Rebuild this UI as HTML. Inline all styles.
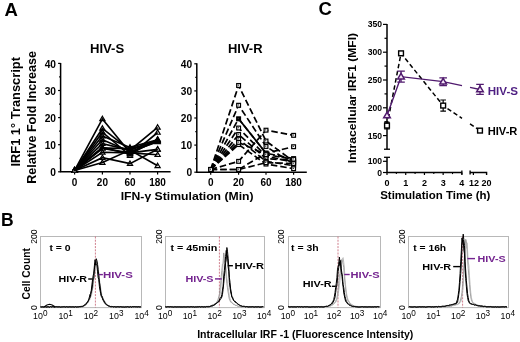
<!DOCTYPE html>
<html><head><meta charset="utf-8"><style>
html,body{margin:0;padding:0;background:#fff;overflow:hidden;}
svg{display:block;font-family:"Liberation Sans", sans-serif;will-change:transform;}
</style></head><body>
<svg width="520" height="342" viewBox="0 0 520 342">
<rect width="520" height="342" fill="#fff"/>
<text x="4.6" y="15.7" font-size="18.5" font-weight="bold" text-anchor="start" fill="#000">A</text>
<text x="1.0" y="226.3" font-size="17.5" font-weight="bold" text-anchor="start" fill="#000">B</text>
<text x="318.6" y="15.0" font-size="18.5" font-weight="bold" text-anchor="start" fill="#000">C</text>
<path d="M60.6 62.900000000000006V171.8H170.6" fill="none" stroke="#000" stroke-width="1.5"/>
<path d="M58.1 171.80H60.6" stroke="#000" stroke-width="1.2"/>
<path d="M59.1 158.25H60.6" stroke="#000" stroke-width="1.2"/>
<path d="M58.1 144.70H60.6" stroke="#000" stroke-width="1.2"/>
<path d="M59.1 131.15H60.6" stroke="#000" stroke-width="1.2"/>
<path d="M58.1 117.60H60.6" stroke="#000" stroke-width="1.2"/>
<path d="M59.1 104.05H60.6" stroke="#000" stroke-width="1.2"/>
<path d="M58.1 90.50H60.6" stroke="#000" stroke-width="1.2"/>
<path d="M59.1 76.95H60.6" stroke="#000" stroke-width="1.2"/>
<path d="M58.1 63.40H60.6" stroke="#000" stroke-width="1.2"/>
<text x="56.0" y="176.0" font-size="10.2" font-weight="bold" text-anchor="end" fill="#000">0</text>
<text x="56.0" y="148.9" font-size="10.2" font-weight="bold" text-anchor="end" fill="#000">10</text>
<text x="56.0" y="121.80000000000001" font-size="10.2" font-weight="bold" text-anchor="end" fill="#000">20</text>
<text x="56.0" y="94.70000000000002" font-size="10.2" font-weight="bold" text-anchor="end" fill="#000">30</text>
<text x="56.0" y="67.60000000000001" font-size="10.2" font-weight="bold" text-anchor="end" fill="#000">40</text>
<path d="M74.6 171.8V174.4" stroke="#000" stroke-width="1.2"/>
<text x="74.6" y="185.8" font-size="10.0" font-weight="bold" text-anchor="middle" fill="#000">0</text>
<path d="M102.4 171.8V174.4" stroke="#000" stroke-width="1.2"/>
<text x="102.4" y="185.8" font-size="10.0" font-weight="bold" text-anchor="middle" fill="#000">20</text>
<path d="M130.0 171.8V174.4" stroke="#000" stroke-width="1.2"/>
<text x="130.0" y="185.8" font-size="10.0" font-weight="bold" text-anchor="middle" fill="#000">60</text>
<path d="M157.6 171.8V174.4" stroke="#000" stroke-width="1.2"/>
<text x="157.6" y="185.8" font-size="10.0" font-weight="bold" text-anchor="middle" fill="#000">180</text>
<text x="90.0" y="53" font-size="12.6" font-weight="bold" text-anchor="start" fill="#000" textLength="34.2" lengthAdjust="spacingAndGlyphs">HIV-S</text>
<path d="M74.60 167.79L77.20 172.21L72.00 172.21Z" fill="#fff" stroke="#000" stroke-width="1.2"/>
<path d="M102.40 116.30L105.00 120.72L99.80 120.72Z" fill="#fff" stroke="#000" stroke-width="1.2"/>
<path d="M130.00 150.18L132.60 154.60L127.40 154.60Z" fill="#fff" stroke="#000" stroke-width="1.2"/>
<path d="M157.60 138.25L160.20 142.67L155.00 142.67Z" fill="#000" stroke="#000" stroke-width="1.2"/>
<path d="M74.60 167.79L77.20 172.21L72.00 172.21Z" fill="#fff" stroke="#000" stroke-width="1.2"/>
<path d="M102.40 125.79L105.00 130.21L99.80 130.21Z" fill="#fff" stroke="#000" stroke-width="1.2"/>
<path d="M130.00 147.47L132.60 151.89L127.40 151.89Z" fill="#fff" stroke="#000" stroke-width="1.2"/>
<path d="M157.60 124.70L160.20 129.12L155.00 129.12Z" fill="#fff" stroke="#000" stroke-width="1.2"/>
<path d="M74.60 167.79L77.20 172.21L72.00 172.21Z" fill="#fff" stroke="#000" stroke-width="1.2"/>
<path d="M102.40 129.58L105.00 134.00L99.80 134.00Z" fill="#fff" stroke="#000" stroke-width="1.2"/>
<path d="M130.00 152.89L132.60 157.31L127.40 157.31Z" fill="#fff" stroke="#000" stroke-width="1.2"/>
<path d="M157.60 129.85L160.20 134.27L155.00 134.27Z" fill="#fff" stroke="#000" stroke-width="1.2"/>
<path d="M74.60 167.79L77.20 172.21L72.00 172.21Z" fill="#fff" stroke="#000" stroke-width="1.2"/>
<path d="M102.40 133.38L105.00 137.80L99.80 137.80Z" fill="#fff" stroke="#000" stroke-width="1.2"/>
<path d="M130.00 144.76L132.60 149.18L127.40 149.18Z" fill="#fff" stroke="#000" stroke-width="1.2"/>
<path d="M157.60 137.17L160.20 141.59L155.00 141.59Z" fill="#000" stroke="#000" stroke-width="1.2"/>
<path d="M74.60 167.79L77.20 172.21L72.00 172.21Z" fill="#fff" stroke="#000" stroke-width="1.2"/>
<path d="M102.40 137.17L105.00 141.59L99.80 141.59Z" fill="#fff" stroke="#000" stroke-width="1.2"/>
<path d="M130.00 148.82L132.60 153.24L127.40 153.24Z" fill="#fff" stroke="#000" stroke-width="1.2"/>
<path d="M157.60 139.34L160.20 143.76L155.00 143.76Z" fill="#000" stroke="#000" stroke-width="1.2"/>
<path d="M74.60 167.79L77.20 172.21L72.00 172.21Z" fill="#fff" stroke="#000" stroke-width="1.2"/>
<path d="M102.40 140.96L105.00 145.38L99.80 145.38Z" fill="#fff" stroke="#000" stroke-width="1.2"/>
<path d="M130.00 147.47L132.60 151.89L127.40 151.89Z" fill="#fff" stroke="#000" stroke-width="1.2"/>
<path d="M157.60 137.71L160.20 142.13L155.00 142.13Z" fill="#000" stroke="#000" stroke-width="1.2"/>
<path d="M74.60 167.79L77.20 172.21L72.00 172.21Z" fill="#fff" stroke="#000" stroke-width="1.2"/>
<path d="M102.40 145.30L105.00 149.72L99.80 149.72Z" fill="#fff" stroke="#000" stroke-width="1.2"/>
<path d="M130.00 146.11L132.60 150.53L127.40 150.53Z" fill="#fff" stroke="#000" stroke-width="1.2"/>
<path d="M157.60 138.53L160.20 142.95L155.00 142.95Z" fill="#000" stroke="#000" stroke-width="1.2"/>
<path d="M74.60 167.79L77.20 172.21L72.00 172.21Z" fill="#fff" stroke="#000" stroke-width="1.2"/>
<path d="M102.40 144.76L105.00 149.18L99.80 149.18Z" fill="#fff" stroke="#000" stroke-width="1.2"/>
<path d="M130.00 151.53L132.60 155.95L127.40 155.95Z" fill="#fff" stroke="#000" stroke-width="1.2"/>
<path d="M157.60 136.63L160.20 141.05L155.00 141.05Z" fill="#000" stroke="#000" stroke-width="1.2"/>
<path d="M74.60 167.79L77.20 172.21L72.00 172.21Z" fill="#fff" stroke="#000" stroke-width="1.2"/>
<path d="M102.40 145.84L105.00 150.26L99.80 150.26Z" fill="#fff" stroke="#000" stroke-width="1.2"/>
<path d="M130.00 150.18L132.60 154.60L127.40 154.60Z" fill="#fff" stroke="#000" stroke-width="1.2"/>
<path d="M157.60 146.66L160.20 151.08L155.00 151.08Z" fill="#fff" stroke="#000" stroke-width="1.2"/>
<path d="M74.60 167.79L77.20 172.21L72.00 172.21Z" fill="#fff" stroke="#000" stroke-width="1.2"/>
<path d="M102.40 149.64L105.00 154.06L99.80 154.06Z" fill="#fff" stroke="#000" stroke-width="1.2"/>
<path d="M130.00 150.18L132.60 154.60L127.40 154.60Z" fill="#fff" stroke="#000" stroke-width="1.2"/>
<path d="M157.60 152.08L160.20 156.50L155.00 156.50Z" fill="#fff" stroke="#000" stroke-width="1.2"/>
<path d="M74.60 167.79L77.20 172.21L72.00 172.21Z" fill="#fff" stroke="#000" stroke-width="1.2"/>
<path d="M102.40 155.06L105.00 159.48L99.80 159.48Z" fill="#fff" stroke="#000" stroke-width="1.2"/>
<path d="M130.00 161.02L132.60 165.44L127.40 165.44Z" fill="#fff" stroke="#000" stroke-width="1.2"/>
<path d="M157.60 146.66L160.20 151.08L155.00 151.08Z" fill="#fff" stroke="#000" stroke-width="1.2"/>
<path d="M74.60 167.79L77.20 172.21L72.00 172.21Z" fill="#fff" stroke="#000" stroke-width="1.2"/>
<path d="M102.40 159.93L105.00 164.35L99.80 164.35Z" fill="#fff" stroke="#000" stroke-width="1.2"/>
<path d="M130.00 147.47L132.60 151.89L127.40 151.89Z" fill="#fff" stroke="#000" stroke-width="1.2"/>
<path d="M157.60 163.19L160.20 167.61L155.00 167.61Z" fill="#fff" stroke="#000" stroke-width="1.2"/>
<polyline points="74.60,170.45 102.40,118.96 130.00,152.83 157.60,140.91" fill="none" stroke="#000" stroke-width="1.65"/>
<polyline points="74.60,170.45 102.40,128.44 130.00,150.12 157.60,127.36" fill="none" stroke="#000" stroke-width="1.65"/>
<polyline points="74.60,170.45 102.40,132.23 130.00,155.54 157.60,132.50" fill="none" stroke="#000" stroke-width="1.65"/>
<polyline points="74.60,170.45 102.40,136.03 130.00,147.41 157.60,139.82" fill="none" stroke="#000" stroke-width="1.65"/>
<polyline points="74.60,170.45 102.40,139.82 130.00,151.48 157.60,141.99" fill="none" stroke="#000" stroke-width="1.65"/>
<polyline points="74.60,170.45 102.40,143.62 130.00,150.12 157.60,140.36" fill="none" stroke="#000" stroke-width="1.65"/>
<polyline points="74.60,170.45 102.40,147.95 130.00,148.77 157.60,141.18" fill="none" stroke="#000" stroke-width="1.65"/>
<polyline points="74.60,170.45 102.40,147.41 130.00,154.19 157.60,139.28" fill="none" stroke="#000" stroke-width="1.65"/>
<polyline points="74.60,170.45 102.40,148.49 130.00,152.83 157.60,149.31" fill="none" stroke="#000" stroke-width="1.65"/>
<polyline points="74.60,170.45 102.40,152.29 130.00,152.83 157.60,154.73" fill="none" stroke="#000" stroke-width="1.65"/>
<polyline points="74.60,170.45 102.40,157.71 130.00,163.67 157.60,149.31" fill="none" stroke="#000" stroke-width="1.65"/>
<polyline points="74.60,170.45 102.40,162.59 130.00,150.12 157.60,165.84" fill="none" stroke="#000" stroke-width="1.65"/>
<path d="M196.8 63.29999999999998V172.2H306.8" fill="none" stroke="#000" stroke-width="1.5"/>
<path d="M194.3 172.20H196.8" stroke="#000" stroke-width="1.2"/>
<path d="M195.3 158.65H196.8" stroke="#000" stroke-width="1.2"/>
<path d="M194.3 145.10H196.8" stroke="#000" stroke-width="1.2"/>
<path d="M195.3 131.55H196.8" stroke="#000" stroke-width="1.2"/>
<path d="M194.3 118.00H196.8" stroke="#000" stroke-width="1.2"/>
<path d="M195.3 104.45H196.8" stroke="#000" stroke-width="1.2"/>
<path d="M194.3 90.90H196.8" stroke="#000" stroke-width="1.2"/>
<path d="M195.3 77.35H196.8" stroke="#000" stroke-width="1.2"/>
<path d="M194.3 63.80H196.8" stroke="#000" stroke-width="1.2"/>
<text x="192.20000000000002" y="176.39999999999998" font-size="10.2" font-weight="bold" text-anchor="end" fill="#000">0</text>
<text x="192.20000000000002" y="149.29999999999998" font-size="10.2" font-weight="bold" text-anchor="end" fill="#000">10</text>
<text x="192.20000000000002" y="122.19999999999999" font-size="10.2" font-weight="bold" text-anchor="end" fill="#000">20</text>
<text x="192.20000000000002" y="95.1" font-size="10.2" font-weight="bold" text-anchor="end" fill="#000">30</text>
<text x="192.20000000000002" y="67.99999999999999" font-size="10.2" font-weight="bold" text-anchor="end" fill="#000">40</text>
<path d="M210.7 172.2V174.79999999999998" stroke="#000" stroke-width="1.2"/>
<text x="210.7" y="186.2" font-size="10.0" font-weight="bold" text-anchor="middle" fill="#000">0</text>
<path d="M238.6 172.2V174.79999999999998" stroke="#000" stroke-width="1.2"/>
<text x="238.6" y="186.2" font-size="10.0" font-weight="bold" text-anchor="middle" fill="#000">20</text>
<path d="M266.0 172.2V174.79999999999998" stroke="#000" stroke-width="1.2"/>
<text x="266.0" y="186.2" font-size="10.0" font-weight="bold" text-anchor="middle" fill="#000">60</text>
<path d="M293.6 172.2V174.79999999999998" stroke="#000" stroke-width="1.2"/>
<text x="293.6" y="186.2" font-size="10.0" font-weight="bold" text-anchor="middle" fill="#000">180</text>
<text x="228.0" y="53" font-size="12.6" font-weight="bold" text-anchor="start" fill="#000" textLength="34.5" lengthAdjust="spacingAndGlyphs">HIV-R</text>
<polyline points="210.70,169.49 238.60,85.48 266.00,141.03 293.60,161.36" fill="none" stroke="#000" stroke-width="1.7" stroke-dasharray="6.5 3"/>
<polyline points="210.70,169.49 238.60,105.26 266.00,146.45 293.60,164.07" fill="none" stroke="#000" stroke-width="1.7" stroke-dasharray="6.5 3"/>
<polyline points="210.70,169.49 238.60,118.81 266.00,153.23 293.60,158.65" fill="none" stroke="#000" stroke-width="1.7" stroke-dasharray="6.5 3"/>
<path d="M238.60 118.81L266.00 153.23" stroke="#000" stroke-width="1.8"/>
<polyline points="210.70,169.49 238.60,128.03 266.00,155.94 293.60,162.44" fill="none" stroke="#000" stroke-width="1.7" stroke-dasharray="6.5 3"/>
<polyline points="210.70,169.49 238.60,134.53 266.00,158.65 293.60,160.28" fill="none" stroke="#000" stroke-width="1.7" stroke-dasharray="6.5 3"/>
<polyline points="210.70,169.49 238.60,139.14 266.00,161.36 293.60,165.70" fill="none" stroke="#000" stroke-width="1.7" stroke-dasharray="6.5 3"/>
<polyline points="210.70,169.49 238.60,144.56 266.00,164.07 293.60,168.68" fill="none" stroke="#000" stroke-width="1.7" stroke-dasharray="6.5 3"/>
<polyline points="210.70,169.49 238.60,161.36 266.00,130.19 293.60,135.34" fill="none" stroke="#000" stroke-width="1.7" stroke-dasharray="6.5 3"/>
<polyline points="210.70,169.49 238.60,169.49 266.00,153.23 293.60,146.73" fill="none" stroke="#000" stroke-width="1.7" stroke-dasharray="6.5 3"/>
<polyline points="210.70,169.49 238.60,169.49 266.00,162.71 293.60,163.53" fill="none" stroke="#000" stroke-width="1.7" stroke-dasharray="6.5 3"/>
<polyline points="210.70,169.49 238.60,142.39 266.00,154.58 293.60,159.19" fill="none" stroke="#000" stroke-width="1.7" stroke-dasharray="6.5 3"/>
<rect x="208.80" y="167.59" width="3.80" height="3.80" fill="#fff" stroke="#000" stroke-width="1.2"/>
<rect x="209.80" y="168.59" width="1.2" height="1.2" fill="#333"/>
<rect x="236.70" y="83.58" width="3.80" height="3.80" fill="#fff" stroke="#000" stroke-width="1.2"/>
<rect x="237.70" y="84.58" width="1.2" height="1.2" fill="#333"/>
<rect x="264.10" y="139.13" width="3.80" height="3.80" fill="#fff" stroke="#000" stroke-width="1.2"/>
<rect x="265.10" y="140.13" width="1.2" height="1.2" fill="#333"/>
<rect x="291.70" y="159.46" width="3.80" height="3.80" fill="#fff" stroke="#000" stroke-width="1.2"/>
<rect x="292.70" y="160.46" width="1.2" height="1.2" fill="#333"/>
<rect x="208.80" y="167.59" width="3.80" height="3.80" fill="#fff" stroke="#000" stroke-width="1.2"/>
<rect x="209.80" y="168.59" width="1.2" height="1.2" fill="#333"/>
<rect x="236.70" y="103.36" width="3.80" height="3.80" fill="#fff" stroke="#000" stroke-width="1.2"/>
<rect x="237.70" y="104.36" width="1.2" height="1.2" fill="#333"/>
<rect x="264.10" y="144.55" width="3.80" height="3.80" fill="#fff" stroke="#000" stroke-width="1.2"/>
<rect x="265.10" y="145.55" width="1.2" height="1.2" fill="#333"/>
<rect x="291.70" y="162.17" width="3.80" height="3.80" fill="#fff" stroke="#000" stroke-width="1.2"/>
<rect x="292.70" y="163.17" width="1.2" height="1.2" fill="#333"/>
<rect x="208.80" y="167.59" width="3.80" height="3.80" fill="#000" stroke="#000" stroke-width="1.2"/>
<rect x="209.80" y="168.59" width="1.2" height="1.2" fill="#333"/>
<rect x="236.70" y="116.91" width="3.80" height="3.80" fill="#000" stroke="#000" stroke-width="1.2"/>
<rect x="237.70" y="117.91" width="1.2" height="1.2" fill="#333"/>
<rect x="264.10" y="151.33" width="3.80" height="3.80" fill="#000" stroke="#000" stroke-width="1.2"/>
<rect x="265.10" y="152.33" width="1.2" height="1.2" fill="#333"/>
<rect x="291.70" y="156.75" width="3.80" height="3.80" fill="#000" stroke="#000" stroke-width="1.2"/>
<rect x="292.70" y="157.75" width="1.2" height="1.2" fill="#333"/>
<rect x="208.80" y="167.59" width="3.80" height="3.80" fill="#fff" stroke="#000" stroke-width="1.2"/>
<rect x="209.80" y="168.59" width="1.2" height="1.2" fill="#333"/>
<rect x="236.70" y="126.13" width="3.80" height="3.80" fill="#fff" stroke="#000" stroke-width="1.2"/>
<rect x="237.70" y="127.13" width="1.2" height="1.2" fill="#333"/>
<rect x="264.10" y="154.04" width="3.80" height="3.80" fill="#fff" stroke="#000" stroke-width="1.2"/>
<rect x="265.10" y="155.04" width="1.2" height="1.2" fill="#333"/>
<rect x="291.70" y="160.54" width="3.80" height="3.80" fill="#fff" stroke="#000" stroke-width="1.2"/>
<rect x="292.70" y="161.54" width="1.2" height="1.2" fill="#333"/>
<rect x="208.80" y="167.59" width="3.80" height="3.80" fill="#fff" stroke="#000" stroke-width="1.2"/>
<rect x="209.80" y="168.59" width="1.2" height="1.2" fill="#333"/>
<rect x="236.70" y="132.63" width="3.80" height="3.80" fill="#fff" stroke="#000" stroke-width="1.2"/>
<rect x="237.70" y="133.63" width="1.2" height="1.2" fill="#333"/>
<rect x="264.10" y="156.75" width="3.80" height="3.80" fill="#fff" stroke="#000" stroke-width="1.2"/>
<rect x="265.10" y="157.75" width="1.2" height="1.2" fill="#333"/>
<rect x="291.70" y="158.38" width="3.80" height="3.80" fill="#fff" stroke="#000" stroke-width="1.2"/>
<rect x="292.70" y="159.38" width="1.2" height="1.2" fill="#333"/>
<rect x="208.80" y="167.59" width="3.80" height="3.80" fill="#fff" stroke="#000" stroke-width="1.2"/>
<rect x="209.80" y="168.59" width="1.2" height="1.2" fill="#333"/>
<rect x="236.70" y="137.24" width="3.80" height="3.80" fill="#fff" stroke="#000" stroke-width="1.2"/>
<rect x="237.70" y="138.24" width="1.2" height="1.2" fill="#333"/>
<rect x="264.10" y="159.46" width="3.80" height="3.80" fill="#fff" stroke="#000" stroke-width="1.2"/>
<rect x="265.10" y="160.46" width="1.2" height="1.2" fill="#333"/>
<rect x="291.70" y="163.80" width="3.80" height="3.80" fill="#fff" stroke="#000" stroke-width="1.2"/>
<rect x="292.70" y="164.80" width="1.2" height="1.2" fill="#333"/>
<rect x="208.80" y="167.59" width="3.80" height="3.80" fill="#fff" stroke="#000" stroke-width="1.2"/>
<rect x="209.80" y="168.59" width="1.2" height="1.2" fill="#333"/>
<rect x="236.70" y="142.66" width="3.80" height="3.80" fill="#fff" stroke="#000" stroke-width="1.2"/>
<rect x="237.70" y="143.66" width="1.2" height="1.2" fill="#333"/>
<rect x="264.10" y="162.17" width="3.80" height="3.80" fill="#fff" stroke="#000" stroke-width="1.2"/>
<rect x="265.10" y="163.17" width="1.2" height="1.2" fill="#333"/>
<rect x="291.70" y="166.78" width="3.80" height="3.80" fill="#fff" stroke="#000" stroke-width="1.2"/>
<rect x="292.70" y="167.78" width="1.2" height="1.2" fill="#333"/>
<rect x="208.80" y="167.59" width="3.80" height="3.80" fill="#fff" stroke="#000" stroke-width="1.2"/>
<rect x="209.80" y="168.59" width="1.2" height="1.2" fill="#333"/>
<rect x="236.70" y="159.46" width="3.80" height="3.80" fill="#fff" stroke="#000" stroke-width="1.2"/>
<rect x="237.70" y="160.46" width="1.2" height="1.2" fill="#333"/>
<rect x="264.10" y="128.29" width="3.80" height="3.80" fill="#fff" stroke="#000" stroke-width="1.2"/>
<rect x="265.10" y="129.29" width="1.2" height="1.2" fill="#333"/>
<rect x="291.70" y="133.44" width="3.80" height="3.80" fill="#fff" stroke="#000" stroke-width="1.2"/>
<rect x="292.70" y="134.44" width="1.2" height="1.2" fill="#333"/>
<rect x="208.80" y="167.59" width="3.80" height="3.80" fill="#fff" stroke="#000" stroke-width="1.2"/>
<rect x="209.80" y="168.59" width="1.2" height="1.2" fill="#333"/>
<rect x="236.70" y="167.59" width="3.80" height="3.80" fill="#fff" stroke="#000" stroke-width="1.2"/>
<rect x="237.70" y="168.59" width="1.2" height="1.2" fill="#333"/>
<rect x="264.10" y="151.33" width="3.80" height="3.80" fill="#fff" stroke="#000" stroke-width="1.2"/>
<rect x="265.10" y="152.33" width="1.2" height="1.2" fill="#333"/>
<rect x="291.70" y="144.83" width="3.80" height="3.80" fill="#fff" stroke="#000" stroke-width="1.2"/>
<rect x="292.70" y="145.83" width="1.2" height="1.2" fill="#333"/>
<rect x="208.80" y="167.59" width="3.80" height="3.80" fill="#fff" stroke="#000" stroke-width="1.2"/>
<rect x="209.80" y="168.59" width="1.2" height="1.2" fill="#333"/>
<rect x="236.70" y="167.59" width="3.80" height="3.80" fill="#fff" stroke="#000" stroke-width="1.2"/>
<rect x="237.70" y="168.59" width="1.2" height="1.2" fill="#333"/>
<rect x="264.10" y="160.81" width="3.80" height="3.80" fill="#fff" stroke="#000" stroke-width="1.2"/>
<rect x="265.10" y="161.81" width="1.2" height="1.2" fill="#333"/>
<rect x="291.70" y="161.63" width="3.80" height="3.80" fill="#fff" stroke="#000" stroke-width="1.2"/>
<rect x="292.70" y="162.63" width="1.2" height="1.2" fill="#333"/>
<rect x="208.80" y="167.59" width="3.80" height="3.80" fill="#fff" stroke="#000" stroke-width="1.2"/>
<rect x="209.80" y="168.59" width="1.2" height="1.2" fill="#333"/>
<rect x="236.70" y="140.49" width="3.80" height="3.80" fill="#fff" stroke="#000" stroke-width="1.2"/>
<rect x="237.70" y="141.49" width="1.2" height="1.2" fill="#333"/>
<rect x="264.10" y="152.68" width="3.80" height="3.80" fill="#fff" stroke="#000" stroke-width="1.2"/>
<rect x="265.10" y="153.68" width="1.2" height="1.2" fill="#333"/>
<rect x="291.70" y="157.29" width="3.80" height="3.80" fill="#fff" stroke="#000" stroke-width="1.2"/>
<rect x="292.70" y="158.29" width="1.2" height="1.2" fill="#333"/>
<text x="120.7" y="199.7" font-size="11.4" font-weight="bold" text-anchor="start" fill="#000" textLength="132.9" lengthAdjust="spacingAndGlyphs">IFN-γ Stimulation (Min)</text>
<text transform="translate(20.4,166.6) rotate(-90)" font-size="12.3" font-weight="bold" text-anchor="start" fill="#000" textLength="109.6" lengthAdjust="spacingAndGlyphs">IRF1 1° Transcript</text>
<text transform="translate(36.4,183.8) rotate(-90)" font-size="12.8" font-weight="bold" text-anchor="start" fill="#000" textLength="132.8" lengthAdjust="spacingAndGlyphs">Relative Fold Increase</text>
<path d="M387.0 23.899999999999977V149.222" stroke="#000" stroke-width="1.5"/>
<path d="M384.0 149.222H390.0" stroke="#000" stroke-width="1.3"/>
<path d="M387.0 157.3V172.5H461.88" fill="none" stroke="#000" stroke-width="1.5"/>
<path d="M384.0 157.3H390.0" stroke="#000" stroke-width="1.3"/>
<path d="M383.0 135.60H387.0" stroke="#000" stroke-width="1.2"/>
<path d="M384.5 121.70H387.0" stroke="#000" stroke-width="1.2"/>
<path d="M383.0 107.80H387.0" stroke="#000" stroke-width="1.2"/>
<path d="M384.5 93.90H387.0" stroke="#000" stroke-width="1.2"/>
<path d="M383.0 80.00H387.0" stroke="#000" stroke-width="1.2"/>
<path d="M384.5 66.10H387.0" stroke="#000" stroke-width="1.2"/>
<path d="M383.0 52.20H387.0" stroke="#000" stroke-width="1.2"/>
<path d="M384.5 38.30H387.0" stroke="#000" stroke-width="1.2"/>
<path d="M383.0 24.40H387.0" stroke="#000" stroke-width="1.2"/>
<text x="382.0" y="138.6" font-size="8.6" font-weight="bold" text-anchor="end" fill="#000">150</text>
<text x="382.0" y="110.79999999999998" font-size="8.6" font-weight="bold" text-anchor="end" fill="#000">200</text>
<text x="382.0" y="82.99999999999999" font-size="8.6" font-weight="bold" text-anchor="end" fill="#000">250</text>
<text x="382.0" y="55.19999999999999" font-size="8.6" font-weight="bold" text-anchor="end" fill="#000">300</text>
<text x="382.0" y="27.399999999999977" font-size="8.6" font-weight="bold" text-anchor="end" fill="#000">350</text>
<path d="M383.0 172.50H387.0" stroke="#000" stroke-width="1.2"/>
<text x="382.0" y="175.5" font-size="8.6" font-weight="bold" text-anchor="end" fill="#000">0</text>
<path d="M383.0 161.30H387.0" stroke="#000" stroke-width="1.2"/>
<text x="382.0" y="164.3" font-size="8.6" font-weight="bold" text-anchor="end" fill="#000">100</text>
<path d="M387.00 172.5V175.0" stroke="#000" stroke-width="1.2"/>
<text x="387.0" y="186.2" font-size="9.0" font-weight="bold" text-anchor="middle" fill="#000">0</text>
<path d="M405.72 172.5V175.0" stroke="#000" stroke-width="1.2"/>
<text x="405.72" y="186.2" font-size="9.0" font-weight="bold" text-anchor="middle" fill="#000">1</text>
<path d="M424.44 172.5V175.0" stroke="#000" stroke-width="1.2"/>
<text x="424.44" y="186.2" font-size="9.0" font-weight="bold" text-anchor="middle" fill="#000">2</text>
<path d="M443.16 172.5V175.0" stroke="#000" stroke-width="1.2"/>
<text x="443.15999999999997" y="186.2" font-size="9.0" font-weight="bold" text-anchor="middle" fill="#000">3</text>
<path d="M461.88 172.5V175.0" stroke="#000" stroke-width="1.2"/>
<text x="461.88" y="186.2" font-size="9.0" font-weight="bold" text-anchor="middle" fill="#000">4</text>
<path d="M396.36 172.5V174.1" stroke="#000" stroke-width="1.1"/>
<path d="M415.08 172.5V174.1" stroke="#000" stroke-width="1.1"/>
<path d="M433.80 172.5V174.1" stroke="#000" stroke-width="1.1"/>
<path d="M452.52 172.5V174.1" stroke="#000" stroke-width="1.1"/>
<path d="M461.88 170.4V174.5" stroke="#000" stroke-width="1.3"/>
<path d="M470.1 170.4V174.5M470.1 172.5H486.6V175" fill="none" stroke="#000" stroke-width="1.4"/>
<path d="M473.4 172.5V175" stroke="#000" stroke-width="1.2"/>
<text x="473.9" y="186.2" font-size="9.0" font-weight="bold" text-anchor="middle" fill="#000">12</text>
<text x="486.4" y="186.2" font-size="9.0" font-weight="bold" text-anchor="middle" fill="#000">20</text>
<text x="380.2" y="198.9" font-size="11.3" font-weight="bold" text-anchor="start" fill="#000" textLength="110.2" lengthAdjust="spacingAndGlyphs">Stimulation Time (h)</text>
<text transform="translate(356.4,163.2) rotate(-90)" font-size="10.2" font-weight="bold" text-anchor="start" fill="#000" textLength="130.3" lengthAdjust="spacingAndGlyphs">Intracellular IRF1 (MFI)</text>
<polyline points="387.00,125.59 401.04,53.31 443.16,105.58 462.00,118.37" fill="none" stroke="#000" stroke-width="1.5" stroke-dasharray="4.5 2.8"/>
<polyline points="470.00,123.80 480.00,130.60" fill="none" stroke="#000" stroke-width="1.5" stroke-dasharray="4.5 2.8"/>
<polyline points="387.00,115.58 401.04,76.66 443.16,81.67 462.00,85.65" fill="none" stroke="#501a6e" stroke-width="1.4"/>
<polyline points="470.00,87.34 480.00,89.45" fill="none" stroke="#501a6e" stroke-width="1.4"/>
<path d="M387.00 122.26V128.93M384.20 122.26h5.6M384.20 128.93h5.6" stroke="#000" stroke-width="1.2"/>
<rect x="384.60" y="123.19" width="4.80" height="4.80" fill="#fff" stroke="#000" stroke-width="1.4"/>
<rect x="398.64" y="50.91" width="4.80" height="4.80" fill="#fff" stroke="#000" stroke-width="1.4"/>
<path d="M443.16 100.02V111.14M440.36 100.02h5.6M440.36 111.14h5.6" stroke="#000" stroke-width="1.2"/>
<rect x="440.76" y="103.18" width="4.80" height="4.80" fill="#fff" stroke="#000" stroke-width="1.4"/>
<rect x="477.60" y="128.20" width="4.80" height="4.80" fill="#fff" stroke="#000" stroke-width="1.4"/>
<path d="M387.00 112.22L390.30 117.83L383.70 117.83Z" fill="#f4e6f6" stroke="#501a6e" stroke-width="1.5"/>
<path d="M401.04 71.10V82.22M397.24 71.10h7.6M397.24 82.22h7.6" stroke="#501a6e" stroke-width="1.3"/>
<path d="M401.04 73.30L404.34 78.91L397.74 78.91Z" fill="#f4e6f6" stroke="#501a6e" stroke-width="1.5"/>
<path d="M443.16 77.78V85.56M439.36 77.78h7.6M439.36 85.56h7.6" stroke="#501a6e" stroke-width="1.3"/>
<path d="M443.16 78.30L446.46 83.91L439.86 83.91Z" fill="#f4e6f6" stroke="#501a6e" stroke-width="1.5"/>
<path d="M480.00 84.45V94.46M476.20 84.45h7.6M476.20 94.46h7.6" stroke="#501a6e" stroke-width="1.3"/>
<path d="M480.00 86.09L483.30 91.70L476.70 91.70Z" fill="#f4e6f6" stroke="#501a6e" stroke-width="1.5"/>
<text x="487.7" y="94.5" font-size="10.8" font-weight="bold" text-anchor="start" fill="#4e1f82" textLength="30.3" lengthAdjust="spacingAndGlyphs">HIV-S</text>
<text x="487.7" y="135.4" font-size="10.8" font-weight="bold" text-anchor="start" fill="#000" textLength="29.7" lengthAdjust="spacingAndGlyphs">HIV-R</text>
<rect x="40.5" y="236.5" width="101" height="71.10" fill="none" stroke="#b8b8b8" stroke-width="1"/>
<path d="M95.4 236.5V307.6" stroke="#c86878" stroke-width="0.85" stroke-dasharray="2 1.2"/>
<path d="M40.50 306.69 L41.13 307.05 L41.75 306.93 L42.38 306.73 L43.01 307.18 L43.63 306.94 L44.26 307.20 L44.89 306.77 L45.52 306.63 L46.14 307.18 L46.77 306.88 L47.40 306.97 L48.02 306.95 L48.65 307.07 L49.28 306.90 L49.90 307.06 L50.53 306.92 L51.16 307.19 L51.78 306.87 L52.41 307.09 L53.04 306.68 L53.66 307.00 L54.29 306.77 L54.92 306.95 L55.55 306.80 L56.17 306.85 L56.80 306.69 L57.43 306.85 L58.05 307.05 L58.68 306.95 L59.31 306.87 L59.93 306.80 L60.56 306.94 L61.19 306.73 L61.81 306.96 L62.44 307.18 L63.07 306.78 L63.69 306.84 L64.32 307.10 L64.95 306.61 L65.58 306.88 L66.20 307.06 L66.83 306.63 L67.46 306.92 L68.08 306.87 L68.71 307.20 L69.34 306.71 L69.96 306.76 L70.59 306.89 L71.22 306.94 L71.84 306.68 L72.47 307.08 L73.10 306.91 L73.72 306.99 L74.35 306.82 L74.98 306.92 L75.61 307.06 L76.23 306.84 L76.86 306.70 L77.49 306.68 L78.11 306.65 L78.74 307.08 L79.37 307.10 L79.99 306.90 L80.62 306.63 L81.25 306.87 L81.87 306.49 L82.50 306.49 L83.13 306.10 L83.75 305.89 L84.38 305.68 L85.01 305.28 L85.64 304.48 L86.26 304.10 L86.89 302.93 L87.52 303.01 L88.14 301.56 L88.77 300.49 L89.40 298.61 L90.02 297.52 L90.65 294.75 L91.28 293.52 L91.90 290.00 L92.53 286.28 L93.16 283.01 L93.78 272.56 L94.41 271.19 L95.04 266.85 L95.67 261.10 L96.29 264.79 L96.92 261.79 L97.55 265.76 L98.17 273.10 L98.80 276.62 L99.43 283.03 L100.05 288.75 L100.68 292.46 L101.31 294.83 L101.93 297.25 L102.56 298.63 L103.19 299.72 L103.81 300.78 L104.44 302.33 L105.07 302.35 L105.70 303.92 L106.32 304.04 L106.95 304.82 L107.58 305.12 L108.20 305.43 L108.83 305.92 L109.46 306.49 L110.08 306.56 L110.71 306.48 L111.34 306.72 L111.96 306.86 L112.59 306.71 L113.22 306.58 L113.84 306.82 L114.47 307.14 L115.10 306.66 L115.73 306.69 L116.35 306.82 L116.98 306.97 L117.61 307.06 L118.23 307.04 L118.86 306.86 L119.49 306.92 L120.11 306.73 L120.74 307.19 L121.37 307.14 L121.99 306.67 L122.62 307.06 L123.25 306.95 L123.87 307.10 L124.50 306.75 L125.13 306.65 L125.76 306.62 L126.38 307.02 L127.01 306.91 L127.64 306.81 L128.26 307.19 L128.89 307.02 L129.52 306.93 L130.14 307.16 L130.77 306.62 L131.40 307.13 L132.02 306.83 L132.65 306.87 L133.28 306.80 L133.90 306.88 L134.53 307.05 L135.16 307.03 L135.79 306.93 L136.41 306.81 L137.04 306.97 L137.67 307.00 L138.29 306.69 L138.92 307.02 L139.55 306.87 L140.17 306.84 L140.80 307.19" fill="none" stroke="#8c8c8c" stroke-width="0.85"/>
<path d="M40.50 306.87 L41.13 306.84 L41.75 307.16 L42.38 306.70 L43.01 307.06 L43.63 306.92 L44.26 306.91 L44.89 307.11 L45.52 306.68 L46.14 306.76 L46.77 307.16 L47.40 306.85 L48.02 307.18 L48.65 306.92 L49.28 306.67 L49.90 306.65 L50.53 306.72 L51.16 306.64 L51.78 307.14 L52.41 307.07 L53.04 306.94 L53.66 307.02 L54.29 306.97 L54.92 306.85 L55.55 306.66 L56.17 306.64 L56.80 306.61 L57.43 307.10 L58.05 306.62 L58.68 306.86 L59.31 307.07 L59.93 306.86 L60.56 307.16 L61.19 306.61 L61.81 306.72 L62.44 307.11 L63.07 306.74 L63.69 307.17 L64.32 307.17 L64.95 307.00 L65.58 306.61 L66.20 306.60 L66.83 307.15 L67.46 307.18 L68.08 306.96 L68.71 307.11 L69.34 306.68 L69.96 306.62 L70.59 306.97 L71.22 306.89 L71.84 306.84 L72.47 306.83 L73.10 306.90 L73.72 306.77 L74.35 307.02 L74.98 306.88 L75.61 307.19 L76.23 306.84 L76.86 306.82 L77.49 307.14 L78.11 306.89 L78.74 306.94 L79.37 306.69 L79.99 307.07 L80.62 306.47 L81.25 306.73 L81.87 306.71 L82.50 306.61 L83.13 306.28 L83.75 306.22 L84.38 306.09 L85.01 305.36 L85.64 305.33 L86.26 304.63 L86.89 304.19 L87.52 303.38 L88.14 302.67 L88.77 301.18 L89.40 300.14 L90.02 299.21 L90.65 296.92 L91.28 296.42 L91.90 293.32 L92.53 288.95 L93.16 287.44 L93.78 279.89 L94.41 274.55 L95.04 273.54 L95.67 264.80 L96.29 265.46 L96.92 264.55 L97.55 262.90 L98.17 272.67 L98.80 272.05 L99.43 279.88 L100.05 283.23 L100.68 287.98 L101.31 291.91 L101.93 295.52 L102.56 297.75 L103.19 298.63 L103.81 299.88 L104.44 300.61 L105.07 301.55 L105.70 302.70 L106.32 303.91 L106.95 304.69 L107.58 304.89 L108.20 305.16 L108.83 305.84 L109.46 305.87 L110.08 306.10 L110.71 306.64 L111.34 306.38 L111.96 306.51 L112.59 306.54 L113.22 307.08 L113.84 306.61 L114.47 306.99 L115.10 306.85 L115.73 306.90 L116.35 307.18 L116.98 307.12 L117.61 307.15 L118.23 306.68 L118.86 306.90 L119.49 307.01 L120.11 306.81 L120.74 306.98 L121.37 307.00 L121.99 306.87 L122.62 306.97 L123.25 307.09 L123.87 306.84 L124.50 306.97 L125.13 306.83 L125.76 306.98 L126.38 306.78 L127.01 306.78 L127.64 307.05 L128.26 306.78 L128.89 306.95 L129.52 306.67 L130.14 306.98 L130.77 306.73 L131.40 306.92 L132.02 306.71 L132.65 306.67 L133.28 306.80 L133.90 306.86 L134.53 306.85 L135.16 307.11 L135.79 307.17 L136.41 307.14 L137.04 307.09 L137.67 306.70 L138.29 306.69 L138.92 306.70 L139.55 306.85 L140.17 307.18 L140.80 306.89" fill="none" stroke="#b0b0b0" stroke-width="0.85"/>
<path d="M40.50 306.63 L41.13 307.15 L41.75 306.76 L42.38 307.02 L43.01 306.84 L43.63 307.10 L44.26 306.96 L44.89 306.60 L45.52 306.87 L46.14 307.04 L46.77 307.18 L47.40 307.01 L48.02 306.66 L48.65 306.86 L49.28 307.19 L49.90 307.12 L50.53 306.60 L51.16 307.09 L51.78 306.72 L52.41 306.66 L53.04 306.73 L53.66 306.61 L54.29 307.10 L54.92 306.77 L55.55 306.88 L56.17 306.65 L56.80 306.70 L57.43 306.67 L58.05 306.92 L58.68 306.65 L59.31 306.91 L59.93 307.01 L60.56 307.10 L61.19 307.04 L61.81 307.01 L62.44 306.78 L63.07 306.89 L63.69 306.85 L64.32 307.08 L64.95 306.64 L65.58 307.15 L66.20 306.76 L66.83 307.09 L67.46 307.16 L68.08 307.04 L68.71 306.67 L69.34 306.89 L69.96 307.05 L70.59 306.67 L71.22 306.77 L71.84 306.98 L72.47 306.80 L73.10 306.63 L73.72 306.76 L74.35 307.04 L74.98 307.10 L75.61 306.77 L76.23 307.16 L76.86 307.08 L77.49 306.95 L78.11 306.69 L78.74 306.91 L79.37 306.80 L79.99 306.54 L80.62 306.43 L81.25 306.34 L81.87 306.50 L82.50 306.21 L83.13 305.96 L83.75 305.64 L84.38 305.12 L85.01 304.77 L85.64 303.83 L86.26 303.16 L86.89 302.68 L87.52 301.94 L88.14 300.93 L88.77 299.33 L89.40 296.94 L90.02 294.11 L90.65 293.57 L91.28 290.41 L91.90 285.00 L92.53 279.89 L93.16 275.60 L93.78 273.16 L94.41 265.60 L95.04 259.73 L95.67 263.95 L96.29 264.25 L96.92 265.44 L97.55 271.84 L98.17 277.70 L98.80 279.59 L99.43 286.80 L100.05 290.44 L100.68 293.60 L101.31 296.63 L101.93 297.17 L102.56 298.84 L103.19 300.41 L103.81 301.14 L104.44 302.78 L105.07 303.72 L105.70 303.80 L106.32 304.90 L106.95 305.22 L107.58 305.60 L108.20 306.12 L108.83 305.92 L109.46 306.25 L110.08 306.49 L110.71 306.65 L111.34 306.76 L111.96 307.00 L112.59 306.61 L113.22 306.56 L113.84 307.14 L114.47 306.71 L115.10 306.88 L115.73 306.92 L116.35 307.03 L116.98 306.91 L117.61 306.71 L118.23 306.70 L118.86 307.06 L119.49 307.04 L120.11 306.79 L120.74 306.85 L121.37 307.14 L121.99 306.60 L122.62 306.95 L123.25 307.15 L123.87 306.61 L124.50 307.12 L125.13 307.06 L125.76 306.79 L126.38 306.89 L127.01 306.88 L127.64 306.75 L128.26 306.89 L128.89 307.05 L129.52 306.92 L130.14 306.96 L130.77 306.73 L131.40 307.11 L132.02 307.18 L132.65 306.67 L133.28 306.89 L133.90 306.96 L134.53 306.64 L135.16 306.92 L135.79 307.00 L136.41 306.80 L137.04 306.69 L137.67 306.83 L138.29 306.80 L138.92 306.82 L139.55 306.92 L140.17 306.67 L140.80 306.71" fill="none" stroke="#000" stroke-width="1.0"/>
<path d="M40.50 307.14 L41.13 307.11 L41.75 306.96 L42.38 306.72 L43.01 307.07 L43.63 307.03 L44.26 307.14 L44.89 306.64 L45.52 306.72 L46.14 307.08 L46.77 306.82 L47.40 306.69 L48.02 307.15 L48.65 306.80 L49.28 307.09 L49.90 307.15 L50.53 306.68 L51.16 307.02 L51.78 306.86 L52.41 306.69 L53.04 306.95 L53.66 306.94 L54.29 307.02 L54.92 307.17 L55.55 306.82 L56.17 306.88 L56.80 306.99 L57.43 307.08 L58.05 307.08 L58.68 307.03 L59.31 306.75 L59.93 306.86 L60.56 307.14 L61.19 307.06 L61.81 306.83 L62.44 307.00 L63.07 306.92 L63.69 306.78 L64.32 306.63 L64.95 306.62 L65.58 307.03 L66.20 306.73 L66.83 306.63 L67.46 306.71 L68.08 307.09 L68.71 307.12 L69.34 306.62 L69.96 307.19 L70.59 307.10 L71.22 306.98 L71.84 307.14 L72.47 306.95 L73.10 307.16 L73.72 307.10 L74.35 307.11 L74.98 306.90 L75.61 306.59 L76.23 306.87 L76.86 306.94 L77.49 306.88 L78.11 306.91 L78.74 306.89 L79.37 306.58 L79.99 306.75 L80.62 306.86 L81.25 306.80 L81.87 306.29 L82.50 306.64 L83.13 306.04 L83.75 305.84 L84.38 305.35 L85.01 304.88 L85.64 304.86 L86.26 303.92 L86.89 302.75 L87.52 302.45 L88.14 301.06 L88.77 299.92 L89.40 298.68 L90.02 297.60 L90.65 294.89 L91.28 291.72 L91.90 289.82 L92.53 284.83 L93.16 279.04 L93.78 278.55 L94.41 269.52 L95.04 263.68 L95.67 265.22 L96.29 258.69 L96.92 260.65 L97.55 264.61 L98.17 269.60 L98.80 275.69 L99.43 282.14 L100.05 285.81 L100.68 291.11 L101.31 295.32 L101.93 295.99 L102.56 297.29 L103.19 299.98 L103.81 300.34 L104.44 301.99 L105.07 302.68 L105.70 303.54 L106.32 304.16 L106.95 304.88 L107.58 305.36 L108.20 305.66 L108.83 305.88 L109.46 305.99 L110.08 306.62 L110.71 306.69 L111.34 306.45 L111.96 306.54 L112.59 306.56 L113.22 307.03 L113.84 306.94 L114.47 306.62 L115.10 307.17 L115.73 306.86 L116.35 306.76 L116.98 307.15 L117.61 306.69 L118.23 306.74 L118.86 306.82 L119.49 306.83 L120.11 306.65 L120.74 306.65 L121.37 306.68 L121.99 306.83 L122.62 307.12 L123.25 306.98 L123.87 307.12 L124.50 307.11 L125.13 307.09 L125.76 306.98 L126.38 306.99 L127.01 307.14 L127.64 306.64 L128.26 306.81 L128.89 307.02 L129.52 307.19 L130.14 306.70 L130.77 306.72 L131.40 307.10 L132.02 306.90 L132.65 306.64 L133.28 306.62 L133.90 306.81 L134.53 306.75 L135.16 306.70 L135.79 306.64 L136.41 306.84 L137.04 306.78 L137.67 307.06 L138.29 306.82 L138.92 306.66 L139.55 306.96 L140.17 307.03 L140.80 307.19" fill="none" stroke="#000" stroke-width="1.0"/>
<path d="M44 306.9Q47 304.5 49.7 304.3Q52 304.5 55 306.8" fill="none" stroke="#000" stroke-width="1.1"/>
<text x="49.4" y="250.8" font-size="8.9" font-weight="bold" text-anchor="start" fill="#000" textLength="21.2" lengthAdjust="spacingAndGlyphs">t = 0</text>
<text x="58.6" y="282.4" font-size="9.3" font-weight="bold" text-anchor="start" fill="#000" textLength="28.500000000000007" lengthAdjust="spacingAndGlyphs">HIV-R</text>
<path d="M88.2 279.0H92.4" stroke="#000" stroke-width="1.4"/>
<text x="102.89999999999999" y="278.0" font-size="9.3" font-weight="bold" text-anchor="start" fill="#74248f" textLength="29.9" lengthAdjust="spacingAndGlyphs">HIV-S</text>
<path d="M98.7 274.6H102.9" stroke="#74248f" stroke-width="1.4"/>
<text transform="translate(36.8,243.7) rotate(-90)" font-size="8.6" font-weight="normal" text-anchor="start" fill="#000" textLength="14.3" lengthAdjust="spacingAndGlyphs">200</text>
<text transform="translate(36.8,310.0) rotate(-90)" font-size="8.6" font-weight="normal" text-anchor="start" fill="#000">0</text>
<text x="33.10" y="319.4" font-size="8.8" fill="#000">10<tspan dy="-3.6" font-size="8.2">0</tspan></text>
<text x="58.43" y="319.4" font-size="8.8" fill="#000">10<tspan dy="-3.6" font-size="8.2">1</tspan></text>
<text x="83.75" y="319.4" font-size="8.8" fill="#000">10<tspan dy="-3.6" font-size="8.2">2</tspan></text>
<text x="109.08" y="319.4" font-size="8.8" fill="#000">10<tspan dy="-3.6" font-size="8.2">3</tspan></text>
<text x="134.40" y="319.4" font-size="8.8" fill="#000">10<tspan dy="-3.6" font-size="8.2">4</tspan></text>
<rect x="165.5" y="236.5" width="99" height="71.10" fill="none" stroke="#b8b8b8" stroke-width="1"/>
<path d="M219.4 236.5V307.6" stroke="#c86878" stroke-width="0.85" stroke-dasharray="2 1.2"/>
<path d="M165.30 306.86 L165.93 306.92 L166.56 306.85 L167.18 306.89 L167.81 306.72 L168.44 307.02 L169.07 306.71 L169.70 307.17 L170.33 306.62 L170.95 306.83 L171.58 307.19 L172.21 307.16 L172.84 307.05 L173.47 306.92 L174.09 306.69 L174.72 306.82 L175.35 306.80 L175.98 307.03 L176.61 306.60 L177.24 306.78 L177.86 307.06 L178.49 307.16 L179.12 306.96 L179.75 306.97 L180.38 306.69 L181.01 307.07 L181.63 306.92 L182.26 306.96 L182.89 306.82 L183.52 307.04 L184.15 307.00 L184.77 306.75 L185.40 307.05 L186.03 307.16 L186.66 307.09 L187.29 306.93 L187.92 306.76 L188.54 306.81 L189.17 306.95 L189.80 307.04 L190.43 306.72 L191.06 306.67 L191.68 306.96 L192.31 306.81 L192.94 306.61 L193.57 307.04 L194.20 307.00 L194.83 307.16 L195.45 306.85 L196.08 306.84 L196.71 306.93 L197.34 306.91 L197.97 306.68 L198.59 307.11 L199.22 306.71 L199.85 307.08 L200.48 306.63 L201.11 306.62 L201.74 306.82 L202.36 307.11 L202.99 306.59 L203.62 306.73 L204.25 306.64 L204.88 306.93 L205.51 306.66 L206.13 306.92 L206.76 306.48 L207.39 306.75 L208.02 306.70 L208.65 306.63 L209.27 306.60 L209.90 306.31 L210.53 306.22 L211.16 305.60 L211.79 305.37 L212.42 305.20 L213.04 305.40 L213.67 304.59 L214.30 303.88 L214.93 304.01 L215.56 303.22 L216.18 302.61 L216.81 302.42 L217.44 300.64 L218.07 299.34 L218.70 297.00 L219.33 294.96 L219.95 289.15 L220.58 285.21 L221.21 276.58 L221.84 270.70 L222.47 264.18 L223.09 263.38 L223.72 252.91 L224.35 256.27 L224.98 259.85 L225.61 267.82 L226.24 276.79 L226.86 283.55 L227.49 287.84 L228.12 292.04 L228.75 295.72 L229.38 299.37 L230.01 300.55 L230.63 302.06 L231.26 301.98 L231.89 302.84 L232.52 303.57 L233.15 304.22 L233.77 304.05 L234.40 304.73 L235.03 305.22 L235.66 305.52 L236.29 305.40 L236.92 305.60 L237.54 306.32 L238.17 306.39 L238.80 306.46 L239.43 306.49 L240.06 306.39 L240.68 306.67 L241.31 307.01 L241.94 307.03 L242.57 306.75 L243.20 306.65 L243.83 307.07 L244.45 307.14 L245.08 307.03 L245.71 307.15 L246.34 306.92 L246.97 306.80 L247.59 306.62 L248.22 307.08 L248.85 307.09 L249.48 306.91 L250.11 307.09 L250.74 306.99 L251.36 306.89 L251.99 306.75 L252.62 306.72 L253.25 307.15 L253.88 306.77 L254.51 306.93 L255.13 306.65 L255.76 306.86 L256.39 306.72 L257.02 306.92 L257.65 307.08 L258.27 306.71 L258.90 306.77 L259.53 306.66 L260.16 306.61 L260.79 306.73 L261.42 306.65 L262.04 306.99 L262.67 306.94 L263.30 306.74" fill="none" stroke="#8c8c8c" stroke-width="0.85"/>
<path d="M165.30 306.79 L165.93 306.69 L166.56 307.06 L167.18 307.06 L167.81 307.12 L168.44 307.07 L169.07 306.94 L169.70 306.83 L170.33 307.03 L170.95 306.68 L171.58 306.72 L172.21 306.75 L172.84 306.72 L173.47 306.69 L174.09 306.75 L174.72 306.94 L175.35 306.94 L175.98 307.13 L176.61 306.72 L177.24 306.79 L177.86 306.75 L178.49 306.79 L179.12 307.09 L179.75 306.89 L180.38 306.92 L181.01 306.96 L181.63 306.91 L182.26 307.06 L182.89 306.98 L183.52 306.81 L184.15 306.97 L184.77 306.64 L185.40 307.11 L186.03 306.70 L186.66 307.10 L187.29 306.68 L187.92 306.72 L188.54 306.69 L189.17 306.77 L189.80 306.62 L190.43 306.77 L191.06 306.83 L191.68 306.85 L192.31 306.76 L192.94 307.02 L193.57 306.79 L194.20 307.06 L194.83 306.81 L195.45 306.87 L196.08 306.94 L196.71 307.14 L197.34 306.60 L197.97 307.02 L198.59 306.84 L199.22 306.92 L199.85 306.70 L200.48 306.99 L201.11 306.61 L201.74 306.90 L202.36 307.00 L202.99 306.88 L203.62 306.72 L204.25 306.75 L204.88 306.98 L205.51 306.90 L206.13 306.92 L206.76 306.84 L207.39 306.77 L208.02 306.50 L208.65 306.85 L209.27 306.62 L209.90 306.31 L210.53 306.35 L211.16 306.26 L211.79 306.00 L212.42 305.70 L213.04 305.46 L213.67 305.42 L214.30 304.79 L214.93 303.85 L215.56 304.12 L216.18 303.48 L216.81 302.77 L217.44 302.37 L218.07 301.91 L218.70 299.65 L219.33 298.01 L219.95 295.11 L220.58 291.53 L221.21 284.54 L221.84 278.68 L222.47 272.52 L223.09 264.78 L223.72 258.11 L224.35 262.08 L224.98 257.09 L225.61 264.67 L226.24 270.69 L226.86 278.58 L227.49 281.75 L228.12 287.50 L228.75 291.74 L229.38 296.71 L230.01 298.46 L230.63 300.76 L231.26 302.26 L231.89 302.20 L232.52 303.16 L233.15 304.01 L233.77 304.51 L234.40 304.33 L235.03 304.76 L235.66 305.14 L236.29 305.20 L236.92 305.88 L237.54 305.71 L238.17 306.30 L238.80 306.31 L239.43 306.39 L240.06 306.35 L240.68 306.85 L241.31 306.78 L241.94 306.71 L242.57 306.57 L243.20 306.66 L243.83 306.87 L244.45 307.13 L245.08 307.07 L245.71 307.08 L246.34 306.88 L246.97 307.03 L247.59 306.83 L248.22 306.88 L248.85 306.93 L249.48 306.99 L250.11 307.17 L250.74 306.94 L251.36 306.75 L251.99 306.65 L252.62 306.71 L253.25 306.79 L253.88 306.80 L254.51 307.05 L255.13 306.76 L255.76 307.17 L256.39 306.83 L257.02 306.73 L257.65 306.97 L258.27 306.90 L258.90 306.95 L259.53 306.93 L260.16 307.00 L260.79 306.65 L261.42 306.97 L262.04 306.91 L262.67 306.71 L263.30 306.61" fill="none" stroke="#b0b0b0" stroke-width="0.85"/>
<path d="M165.30 306.81 L165.93 307.11 L166.56 306.98 L167.18 306.71 L167.81 306.84 L168.44 306.80 L169.07 306.94 L169.70 306.66 L170.33 306.71 L170.95 306.79 L171.58 306.96 L172.21 307.19 L172.84 306.65 L173.47 307.15 L174.09 306.63 L174.72 306.95 L175.35 307.01 L175.98 307.10 L176.61 307.17 L177.24 306.71 L177.86 306.95 L178.49 306.91 L179.12 307.18 L179.75 306.62 L180.38 306.80 L181.01 306.98 L181.63 306.80 L182.26 307.06 L182.89 306.89 L183.52 306.90 L184.15 306.71 L184.77 306.89 L185.40 306.94 L186.03 306.74 L186.66 306.87 L187.29 306.78 L187.92 307.03 L188.54 306.82 L189.17 306.92 L189.80 307.03 L190.43 306.62 L191.06 306.63 L191.68 306.65 L192.31 307.09 L192.94 306.65 L193.57 307.04 L194.20 306.99 L194.83 307.19 L195.45 306.83 L196.08 306.60 L196.71 307.19 L197.34 306.73 L197.97 306.82 L198.59 306.88 L199.22 306.82 L199.85 306.63 L200.48 307.10 L201.11 306.67 L201.74 306.62 L202.36 306.77 L202.99 307.05 L203.62 307.02 L204.25 306.74 L204.88 306.62 L205.51 306.99 L206.13 306.52 L206.76 306.69 L207.39 306.44 L208.02 306.71 L208.65 306.36 L209.27 306.45 L209.90 306.50 L210.53 306.20 L211.16 306.05 L211.79 305.66 L212.42 305.34 L213.04 305.21 L213.67 305.35 L214.30 304.87 L214.93 303.96 L215.56 303.71 L216.18 303.51 L216.81 302.62 L217.44 302.37 L218.07 301.49 L218.70 301.36 L219.33 300.07 L219.95 298.63 L220.58 297.40 L221.21 297.38 L221.84 294.49 L222.47 290.15 L223.09 286.32 L223.72 275.96 L224.35 270.48 L224.98 263.30 L225.61 256.33 L226.24 250.43 L226.86 255.02 L227.49 255.69 L228.12 266.72 L228.75 271.28 L229.38 282.85 L230.01 287.16 L230.63 291.92 L231.26 294.40 L231.89 297.07 L232.52 298.32 L233.15 299.60 L233.77 300.78 L234.40 301.32 L235.03 302.25 L235.66 302.27 L236.29 302.62 L236.92 303.38 L237.54 303.94 L238.17 304.57 L238.80 304.70 L239.43 305.20 L240.06 305.65 L240.68 305.88 L241.31 306.08 L241.94 306.35 L242.57 306.51 L243.20 306.41 L243.83 306.38 L244.45 306.43 L245.08 306.56 L245.71 306.97 L246.34 306.58 L246.97 306.59 L247.59 306.96 L248.22 307.06 L248.85 306.74 L249.48 307.06 L250.11 307.00 L250.74 306.82 L251.36 306.78 L251.99 306.93 L252.62 306.81 L253.25 306.89 L253.88 306.92 L254.51 306.97 L255.13 306.89 L255.76 307.03 L256.39 306.90 L257.02 306.79 L257.65 306.79 L258.27 306.96 L258.90 306.75 L259.53 307.12 L260.16 307.14 L260.79 307.17 L261.42 307.05 L262.04 306.79 L262.67 306.62 L263.30 306.75" fill="none" stroke="#000" stroke-width="1.0"/>
<path d="M165.30 306.78 L165.93 306.64 L166.56 307.05 L167.18 306.80 L167.81 306.79 L168.44 306.73 L169.07 307.07 L169.70 306.99 L170.33 306.72 L170.95 307.11 L171.58 306.80 L172.21 306.81 L172.84 307.00 L173.47 307.08 L174.09 306.96 L174.72 306.94 L175.35 306.68 L175.98 307.13 L176.61 306.82 L177.24 307.14 L177.86 306.89 L178.49 306.93 L179.12 306.72 L179.75 307.14 L180.38 307.15 L181.01 307.18 L181.63 307.13 L182.26 307.14 L182.89 306.79 L183.52 306.93 L184.15 306.94 L184.77 307.14 L185.40 307.06 L186.03 306.64 L186.66 307.11 L187.29 306.86 L187.92 306.78 L188.54 306.95 L189.17 306.86 L189.80 307.04 L190.43 307.09 L191.06 306.92 L191.68 306.97 L192.31 307.01 L192.94 306.85 L193.57 306.64 L194.20 307.05 L194.83 307.11 L195.45 307.06 L196.08 307.04 L196.71 306.84 L197.34 307.02 L197.97 306.98 L198.59 306.84 L199.22 306.74 L199.85 306.69 L200.48 306.97 L201.11 306.87 L201.74 307.00 L202.36 306.82 L202.99 306.63 L203.62 306.98 L204.25 307.11 L204.88 306.75 L205.51 307.00 L206.13 306.80 L206.76 306.64 L207.39 306.86 L208.02 306.96 L208.65 306.90 L209.27 306.81 L209.90 306.68 L210.53 306.31 L211.16 306.04 L211.79 306.06 L212.42 306.06 L213.04 305.77 L213.67 305.09 L214.30 305.15 L214.93 304.56 L215.56 304.31 L216.18 303.63 L216.81 302.93 L217.44 302.75 L218.07 302.08 L218.70 301.98 L219.33 301.07 L219.95 300.02 L220.58 299.27 L221.21 298.26 L221.84 297.07 L222.47 294.39 L223.09 289.56 L223.72 283.43 L224.35 276.23 L224.98 270.86 L225.61 262.81 L226.24 259.87 L226.86 247.52 L227.49 251.18 L228.12 258.25 L228.75 266.62 L229.38 277.49 L230.01 282.20 L230.63 288.93 L231.26 291.94 L231.89 296.73 L232.52 297.06 L233.15 299.01 L233.77 300.43 L234.40 301.01 L235.03 301.06 L235.66 302.08 L236.29 302.79 L236.92 302.90 L237.54 303.41 L238.17 304.35 L238.80 304.40 L239.43 305.08 L240.06 305.22 L240.68 305.55 L241.31 305.68 L241.94 306.07 L242.57 306.29 L243.20 306.31 L243.83 306.29 L244.45 306.34 L245.08 306.85 L245.71 306.60 L246.34 306.68 L246.97 306.52 L247.59 306.65 L248.22 306.84 L248.85 307.08 L249.48 306.63 L250.11 306.94 L250.74 306.82 L251.36 306.98 L251.99 306.86 L252.62 306.70 L253.25 306.94 L253.88 307.01 L254.51 307.10 L255.13 306.72 L255.76 306.69 L256.39 306.97 L257.02 307.13 L257.65 306.94 L258.27 306.74 L258.90 306.71 L259.53 307.05 L260.16 307.08 L260.79 306.75 L261.42 306.88 L262.04 306.68 L262.67 306.70 L263.30 306.75" fill="none" stroke="#000" stroke-width="1.0"/>
<text x="170.4" y="250.8" font-size="8.9" font-weight="bold" text-anchor="start" fill="#000" textLength="46.9" lengthAdjust="spacingAndGlyphs">t = 45min</text>
<text x="234.6" y="269.4" font-size="9.3" font-weight="bold" text-anchor="start" fill="#000" textLength="29.400000000000013" lengthAdjust="spacingAndGlyphs">HIV-R</text>
<path d="M227.8 265.7H232.9" stroke="#000" stroke-width="1.4"/>
<text x="185.4" y="281.9" font-size="9.3" font-weight="bold" text-anchor="start" fill="#74248f" textLength="28.199999999999996" lengthAdjust="spacingAndGlyphs">HIV-S</text>
<path d="M215.0 278.9H221.8" stroke="#74248f" stroke-width="1.4"/>
<text transform="translate(161.60000000000002,243.7) rotate(-90)" font-size="8.6" font-weight="normal" text-anchor="start" fill="#000" textLength="14.3" lengthAdjust="spacingAndGlyphs">200</text>
<text transform="translate(161.60000000000002,310.0) rotate(-90)" font-size="8.6" font-weight="normal" text-anchor="start" fill="#000">0</text>
<text x="157.90" y="319.4" font-size="8.8" fill="#000">10<tspan dy="-3.6" font-size="8.2">0</tspan></text>
<text x="182.65" y="319.4" font-size="8.8" fill="#000">10<tspan dy="-3.6" font-size="8.2">1</tspan></text>
<text x="207.40" y="319.4" font-size="8.8" fill="#000">10<tspan dy="-3.6" font-size="8.2">2</tspan></text>
<text x="232.15" y="319.4" font-size="8.8" fill="#000">10<tspan dy="-3.6" font-size="8.2">3</tspan></text>
<text x="256.90" y="319.4" font-size="8.8" fill="#000">10<tspan dy="-3.6" font-size="8.2">4</tspan></text>
<rect x="288.5" y="236.5" width="92" height="71.10" fill="none" stroke="#b8b8b8" stroke-width="1"/>
<path d="M338.0 236.5V307.6" stroke="#c86878" stroke-width="0.85" stroke-dasharray="2 1.2"/>
<path d="M288.10 306.79 L288.73 306.91 L289.35 306.72 L289.98 306.89 L290.60 307.06 L291.23 306.98 L291.85 307.16 L292.48 307.06 L293.10 307.17 L293.73 306.76 L294.35 306.83 L294.98 307.00 L295.60 307.13 L296.23 306.98 L296.85 306.71 L297.48 306.64 L298.11 306.87 L298.73 306.91 L299.36 307.18 L299.98 307.06 L300.61 307.07 L301.23 306.66 L301.86 306.74 L302.48 306.76 L303.11 306.91 L303.73 307.08 L304.36 306.67 L304.98 306.98 L305.61 306.97 L306.23 306.97 L306.86 307.14 L307.49 306.60 L308.11 306.91 L308.74 306.75 L309.36 306.83 L309.99 306.83 L310.61 307.10 L311.24 306.64 L311.86 306.84 L312.49 307.14 L313.11 306.71 L313.74 306.98 L314.36 306.79 L314.99 306.62 L315.62 306.61 L316.24 306.85 L316.87 306.91 L317.49 307.05 L318.12 307.10 L318.74 306.72 L319.37 306.91 L319.99 307.16 L320.62 307.02 L321.24 307.09 L321.87 306.99 L322.49 306.59 L323.12 306.88 L323.74 306.58 L324.37 306.70 L325.00 306.99 L325.62 306.59 L326.25 306.65 L326.87 306.62 L327.50 306.67 L328.12 306.60 L328.75 306.60 L329.37 305.86 L330.00 305.97 L330.62 305.45 L331.25 305.50 L331.87 304.78 L332.50 304.65 L333.12 304.56 L333.75 303.87 L334.38 302.94 L335.00 302.19 L335.63 301.12 L336.25 299.77 L336.88 298.21 L337.50 294.49 L338.13 290.09 L338.75 283.18 L339.38 275.83 L340.00 273.53 L340.63 266.98 L341.25 261.80 L341.88 259.49 L342.50 260.81 L343.13 264.36 L343.76 267.25 L344.38 276.94 L345.01 282.22 L345.63 289.32 L346.26 293.27 L346.88 297.49 L347.51 299.40 L348.13 301.25 L348.76 301.71 L349.38 302.69 L350.01 304.01 L350.63 304.11 L351.26 304.49 L351.88 305.24 L352.51 305.35 L353.14 305.73 L353.76 306.11 L354.39 306.25 L355.01 306.23 L355.64 306.30 L356.26 306.73 L356.89 306.67 L357.51 306.44 L358.14 306.79 L358.76 306.68 L359.39 306.66 L360.01 306.70 L360.64 306.65 L361.27 306.77 L361.89 306.64 L362.52 306.82 L363.14 306.62 L363.77 307.19 L364.39 307.01 L365.02 307.11 L365.64 307.15 L366.27 306.63 L366.89 306.92 L367.52 306.63 L368.14 307.08 L368.77 306.81 L369.39 307.04 L370.02 307.01 L370.65 306.69 L371.27 306.79 L371.90 306.84 L372.52 306.97 L373.15 306.92 L373.77 306.83 L374.40 307.10 L375.02 307.04 L375.65 306.62 L376.27 306.71 L376.90 306.78 L377.52 306.90 L378.15 306.84 L378.77 307.06 L379.40 306.87" fill="none" stroke="#8c8c8c" stroke-width="0.85"/>
<path d="M288.10 306.63 L288.73 307.15 L289.35 306.95 L289.98 307.12 L290.60 306.93 L291.23 306.93 L291.85 307.15 L292.48 306.95 L293.10 306.76 L293.73 307.17 L294.35 306.85 L294.98 306.83 L295.60 306.98 L296.23 306.98 L296.85 306.80 L297.48 307.15 L298.11 306.77 L298.73 306.93 L299.36 307.09 L299.98 307.01 L300.61 307.08 L301.23 307.14 L301.86 307.03 L302.48 306.71 L303.11 306.98 L303.73 307.02 L304.36 306.87 L304.98 307.14 L305.61 306.78 L306.23 307.06 L306.86 306.65 L307.49 306.63 L308.11 306.61 L308.74 306.95 L309.36 306.71 L309.99 306.62 L310.61 306.63 L311.24 306.61 L311.86 306.99 L312.49 306.97 L313.11 307.15 L313.74 307.08 L314.36 306.63 L314.99 307.14 L315.62 307.10 L316.24 306.71 L316.87 306.95 L317.49 306.93 L318.12 306.66 L318.74 306.66 L319.37 306.95 L319.99 306.70 L320.62 307.05 L321.24 306.95 L321.87 306.86 L322.49 306.69 L323.12 306.80 L323.74 306.84 L324.37 307.01 L325.00 307.09 L325.62 306.79 L326.25 306.75 L326.87 306.76 L327.50 306.96 L328.12 306.42 L328.75 306.29 L329.37 306.26 L330.00 306.25 L330.62 306.23 L331.25 305.68 L331.87 305.34 L332.50 305.03 L333.12 304.49 L333.75 304.15 L334.38 303.42 L335.00 302.70 L335.63 302.25 L336.25 301.46 L336.88 299.72 L337.50 297.97 L338.13 294.56 L338.75 290.32 L339.38 285.80 L340.00 280.36 L340.63 272.39 L341.25 265.03 L341.88 260.98 L342.50 258.35 L343.13 257.64 L343.76 262.40 L344.38 268.01 L345.01 280.35 L345.63 285.76 L346.26 291.21 L346.88 295.39 L347.51 297.74 L348.13 300.29 L348.76 300.68 L349.38 302.22 L350.01 302.91 L350.63 303.86 L351.26 304.22 L351.88 304.54 L352.51 304.88 L353.14 305.27 L353.76 305.80 L354.39 306.28 L355.01 306.31 L355.64 306.46 L356.26 306.45 L356.89 306.60 L357.51 306.58 L358.14 306.47 L358.76 306.55 L359.39 306.52 L360.01 306.92 L360.64 306.66 L361.27 306.94 L361.89 306.73 L362.52 307.06 L363.14 307.16 L363.77 306.94 L364.39 306.84 L365.02 307.05 L365.64 306.80 L366.27 307.10 L366.89 306.85 L367.52 306.88 L368.14 306.94 L368.77 306.65 L369.39 306.80 L370.02 307.16 L370.65 306.97 L371.27 307.17 L371.90 306.97 L372.52 306.76 L373.15 306.80 L373.77 307.10 L374.40 307.16 L375.02 306.89 L375.65 307.13 L376.27 306.92 L376.90 306.82 L377.52 306.83 L378.15 306.84 L378.77 307.08 L379.40 306.61" fill="none" stroke="#b0b0b0" stroke-width="0.85"/>
<path d="M288.10 307.12 L288.73 306.60 L289.35 307.13 L289.98 306.99 L290.60 307.06 L291.23 307.01 L291.85 306.64 L292.48 306.65 L293.10 307.17 L293.73 306.85 L294.35 307.09 L294.98 306.85 L295.60 306.74 L296.23 306.86 L296.85 306.83 L297.48 306.63 L298.11 306.73 L298.73 306.81 L299.36 306.70 L299.98 307.09 L300.61 306.88 L301.23 306.64 L301.86 306.89 L302.48 306.80 L303.11 307.02 L303.73 306.85 L304.36 306.84 L304.98 306.94 L305.61 306.88 L306.23 306.60 L306.86 306.94 L307.49 306.64 L308.11 306.89 L308.74 307.14 L309.36 307.10 L309.99 306.99 L310.61 306.99 L311.24 307.18 L311.86 306.72 L312.49 307.08 L313.11 307.17 L313.74 306.70 L314.36 306.92 L314.99 306.90 L315.62 306.85 L316.24 306.75 L316.87 306.76 L317.49 306.98 L318.12 306.70 L318.74 306.63 L319.37 306.89 L319.99 306.98 L320.62 306.76 L321.24 307.00 L321.87 306.57 L322.49 307.05 L323.12 306.94 L323.74 306.92 L324.37 306.93 L325.00 306.78 L325.62 306.37 L326.25 306.13 L326.87 306.34 L327.50 306.23 L328.12 305.83 L328.75 305.35 L329.37 305.08 L330.00 304.99 L330.62 304.62 L331.25 303.79 L331.87 302.62 L332.50 302.46 L333.12 300.99 L333.75 299.39 L334.38 296.42 L335.00 292.60 L335.63 287.77 L336.25 283.34 L336.88 277.75 L337.50 269.16 L338.13 266.33 L338.75 264.25 L339.38 257.08 L340.00 262.53 L340.63 265.29 L341.25 272.17 L341.88 274.83 L342.50 281.82 L343.13 287.00 L343.76 292.95 L344.38 295.98 L345.01 298.90 L345.63 301.37 L346.26 302.26 L346.88 302.63 L347.51 303.81 L348.13 303.98 L348.76 304.52 L349.38 304.99 L350.01 305.22 L350.63 305.92 L351.26 306.25 L351.88 305.93 L352.51 306.37 L353.14 306.34 L353.76 306.32 L354.39 306.52 L355.01 306.54 L355.64 306.88 L356.26 306.98 L356.89 306.59 L357.51 307.15 L358.14 307.11 L358.76 306.98 L359.39 306.90 L360.01 306.98 L360.64 307.01 L361.27 306.67 L361.89 306.97 L362.52 306.63 L363.14 307.07 L363.77 307.06 L364.39 307.12 L365.02 306.60 L365.64 307.13 L366.27 306.72 L366.89 307.16 L367.52 306.97 L368.14 306.85 L368.77 306.82 L369.39 306.79 L370.02 306.80 L370.65 307.03 L371.27 307.15 L371.90 306.93 L372.52 307.07 L373.15 306.82 L373.77 307.19 L374.40 306.85 L375.02 307.06 L375.65 306.64 L376.27 306.96 L376.90 307.10 L377.52 306.65 L378.15 306.71 L378.77 306.68 L379.40 307.06" fill="none" stroke="#000" stroke-width="1.0"/>
<path d="M288.10 306.70 L288.73 306.60 L289.35 306.80 L289.98 306.75 L290.60 306.78 L291.23 306.74 L291.85 306.68 L292.48 307.13 L293.10 306.63 L293.73 306.93 L294.35 306.63 L294.98 306.74 L295.60 307.11 L296.23 307.02 L296.85 306.98 L297.48 306.65 L298.11 306.66 L298.73 307.14 L299.36 306.72 L299.98 306.60 L300.61 307.04 L301.23 306.65 L301.86 306.90 L302.48 307.11 L303.11 306.80 L303.73 307.12 L304.36 306.60 L304.98 306.88 L305.61 306.82 L306.23 306.81 L306.86 306.97 L307.49 306.96 L308.11 306.70 L308.74 307.09 L309.36 306.94 L309.99 307.05 L310.61 307.17 L311.24 307.01 L311.86 306.74 L312.49 306.61 L313.11 306.71 L313.74 306.85 L314.36 306.96 L314.99 307.02 L315.62 307.00 L316.24 306.72 L316.87 307.19 L317.49 306.87 L318.12 306.95 L318.74 306.65 L319.37 306.96 L319.99 307.00 L320.62 306.94 L321.24 306.90 L321.87 306.69 L322.49 306.82 L323.12 306.99 L323.74 306.98 L324.37 306.56 L325.00 306.44 L325.62 306.48 L326.25 306.29 L326.87 306.59 L327.50 306.47 L328.12 306.28 L328.75 305.73 L329.37 305.60 L330.00 305.15 L330.62 304.77 L331.25 303.87 L331.87 303.66 L332.50 303.49 L333.12 302.21 L333.75 300.97 L334.38 299.53 L335.00 297.38 L335.63 292.81 L336.25 287.82 L336.88 284.97 L337.50 278.98 L338.13 271.38 L338.75 267.58 L339.38 261.76 L340.00 265.67 L340.63 260.43 L341.25 268.77 L341.88 272.94 L342.50 276.69 L343.13 284.68 L343.76 287.69 L344.38 292.61 L345.01 296.56 L345.63 298.75 L346.26 301.07 L346.88 301.80 L347.51 303.44 L348.13 303.54 L348.76 304.41 L349.38 304.91 L350.01 305.28 L350.63 305.17 L351.26 305.66 L351.88 305.92 L352.51 306.42 L353.14 306.25 L353.76 306.74 L354.39 306.43 L355.01 306.66 L355.64 306.61 L356.26 306.78 L356.89 306.60 L357.51 306.64 L358.14 306.80 L358.76 307.13 L359.39 307.18 L360.01 306.90 L360.64 306.90 L361.27 306.76 L361.89 306.99 L362.52 306.82 L363.14 306.82 L363.77 306.84 L364.39 306.62 L365.02 307.09 L365.64 306.62 L366.27 306.91 L366.89 307.16 L367.52 307.02 L368.14 306.76 L368.77 307.05 L369.39 306.88 L370.02 307.20 L370.65 306.80 L371.27 306.90 L371.90 306.83 L372.52 306.70 L373.15 306.66 L373.77 307.10 L374.40 306.68 L375.02 306.83 L375.65 307.10 L376.27 306.95 L376.90 306.62 L377.52 306.64 L378.15 306.63 L378.77 307.08 L379.40 306.68" fill="none" stroke="#000" stroke-width="1.0"/>
<text x="291.0" y="250.8" font-size="8.9" font-weight="bold" text-anchor="start" fill="#000" textLength="27.6" lengthAdjust="spacingAndGlyphs">t = 3h</text>
<text x="302.70000000000005" y="287.1" font-size="9.3" font-weight="bold" text-anchor="start" fill="#000" textLength="28.99999999999998" lengthAdjust="spacingAndGlyphs">HIV-R</text>
<path d="M331.9 286.3H335.7" stroke="#000" stroke-width="1.4"/>
<text x="350.6" y="277.9" font-size="9.3" font-weight="bold" text-anchor="start" fill="#74248f" textLength="28.99999999999998" lengthAdjust="spacingAndGlyphs">HIV-S</text>
<path d="M344.2 274.5H349.7" stroke="#74248f" stroke-width="1.4"/>
<text transform="translate(284.40000000000003,243.7) rotate(-90)" font-size="8.6" font-weight="normal" text-anchor="start" fill="#000" textLength="14.3" lengthAdjust="spacingAndGlyphs">200</text>
<text transform="translate(284.40000000000003,310.0) rotate(-90)" font-size="8.6" font-weight="normal" text-anchor="start" fill="#000">0</text>
<text x="280.70" y="319.4" font-size="8.8" fill="#000">10<tspan dy="-3.6" font-size="8.2">0</tspan></text>
<text x="303.78" y="319.4" font-size="8.8" fill="#000">10<tspan dy="-3.6" font-size="8.2">1</tspan></text>
<text x="326.85" y="319.4" font-size="8.8" fill="#000">10<tspan dy="-3.6" font-size="8.2">2</tspan></text>
<text x="349.93" y="319.4" font-size="8.8" fill="#000">10<tspan dy="-3.6" font-size="8.2">3</tspan></text>
<text x="373.00" y="319.4" font-size="8.8" fill="#000">10<tspan dy="-3.6" font-size="8.2">4</tspan></text>
<rect x="408.5" y="236.5" width="100" height="71.10" fill="none" stroke="#b8b8b8" stroke-width="1"/>
<path d="M462.6 236.5V307.6" stroke="#c86878" stroke-width="0.85" stroke-dasharray="2 1.2"/>
<path d="M408.80 307.13 L409.43 306.79 L410.05 307.13 L410.68 306.75 L411.30 306.76 L411.93 307.12 L412.55 306.93 L413.18 306.60 L413.80 307.19 L414.43 306.96 L415.05 307.00 L415.68 306.63 L416.31 307.07 L416.93 306.87 L417.56 306.70 L418.18 307.08 L418.81 306.61 L419.43 306.76 L420.06 306.81 L420.68 306.72 L421.31 307.08 L421.94 307.07 L422.56 307.00 L423.19 306.96 L423.81 306.70 L424.44 306.61 L425.06 306.73 L425.69 307.09 L426.31 306.87 L426.94 307.14 L427.56 306.65 L428.19 306.78 L428.82 306.96 L429.44 306.81 L430.07 307.08 L430.69 306.72 L431.32 306.73 L431.94 307.13 L432.57 306.61 L433.19 307.08 L433.82 306.77 L434.44 306.91 L435.07 306.72 L435.70 306.97 L436.32 306.81 L436.95 307.13 L437.57 306.76 L438.20 306.60 L438.82 307.03 L439.45 306.59 L440.07 307.17 L440.70 307.00 L441.32 307.13 L441.95 306.63 L442.58 306.77 L443.20 307.00 L443.83 306.90 L444.45 306.80 L445.08 306.71 L445.70 306.74 L446.33 306.52 L446.95 306.47 L447.58 306.75 L448.21 306.32 L448.83 306.09 L449.46 306.22 L450.08 306.01 L450.71 306.17 L451.33 306.07 L451.96 305.87 L452.58 305.55 L453.21 305.35 L453.83 305.00 L454.46 305.15 L455.09 304.85 L455.71 304.56 L456.34 304.51 L456.96 304.05 L457.59 304.20 L458.21 303.52 L458.84 303.04 L459.46 302.95 L460.09 301.21 L460.71 299.12 L461.34 296.79 L461.97 292.52 L462.59 285.00 L463.22 278.27 L463.84 265.68 L464.47 256.50 L465.09 246.00 L465.72 239.33 L466.34 241.21 L466.97 247.14 L467.59 259.49 L468.22 268.34 L468.85 275.62 L469.47 284.25 L470.10 290.92 L470.72 296.66 L471.35 299.72 L471.97 301.36 L472.60 302.61 L473.22 303.20 L473.85 303.58 L474.48 303.46 L475.10 304.53 L475.73 304.12 L476.35 305.06 L476.98 305.21 L477.60 305.09 L478.23 305.52 L478.85 305.41 L479.48 305.67 L480.10 305.69 L480.73 305.68 L481.36 306.14 L481.98 306.48 L482.61 306.52 L483.23 306.14 L483.86 306.55 L484.48 306.28 L485.11 306.39 L485.73 306.53 L486.36 306.76 L486.98 306.58 L487.61 306.61 L488.24 306.83 L488.86 306.64 L489.49 307.05 L490.11 306.62 L490.74 307.08 L491.36 307.03 L491.99 306.60 L492.61 306.99 L493.24 306.92 L493.86 306.98 L494.49 307.06 L495.12 306.65 L495.74 306.74 L496.37 306.72 L496.99 306.73 L497.62 307.15 L498.24 306.72 L498.87 306.91 L499.49 306.78 L500.12 307.16 L500.75 307.01 L501.37 306.87 L502.00 307.13 L502.62 306.83 L503.25 306.67 L503.87 306.84 L504.50 307.04 L505.12 306.73 L505.75 306.87 L506.37 306.61 L507.00 307.16" fill="none" stroke="#8c8c8c" stroke-width="0.85"/>
<path d="M408.80 306.82 L409.43 307.03 L410.05 306.67 L410.68 307.09 L411.30 306.83 L411.93 306.62 L412.55 306.93 L413.18 306.82 L413.80 307.01 L414.43 307.17 L415.05 306.76 L415.68 306.69 L416.31 306.87 L416.93 307.13 L417.56 306.61 L418.18 307.07 L418.81 306.75 L419.43 307.01 L420.06 307.04 L420.68 306.89 L421.31 306.96 L421.94 307.13 L422.56 306.68 L423.19 306.86 L423.81 307.11 L424.44 307.01 L425.06 307.03 L425.69 307.08 L426.31 306.93 L426.94 306.99 L427.56 306.73 L428.19 307.16 L428.82 306.97 L429.44 307.13 L430.07 307.19 L430.69 306.93 L431.32 306.67 L431.94 307.10 L432.57 306.83 L433.19 307.15 L433.82 306.76 L434.44 306.95 L435.07 307.04 L435.70 306.62 L436.32 307.18 L436.95 306.71 L437.57 307.13 L438.20 306.76 L438.82 307.02 L439.45 306.73 L440.07 306.68 L440.70 306.69 L441.32 306.64 L441.95 306.80 L442.58 306.63 L443.20 306.70 L443.83 307.06 L444.45 306.75 L445.08 306.94 L445.70 306.47 L446.33 306.46 L446.95 306.60 L447.58 306.47 L448.21 306.31 L448.83 306.23 L449.46 306.58 L450.08 306.64 L450.71 305.99 L451.33 306.36 L451.96 305.80 L452.58 305.55 L453.21 305.40 L453.83 305.69 L454.46 305.23 L455.09 305.18 L455.71 305.14 L456.34 304.75 L456.96 304.66 L457.59 304.59 L458.21 304.39 L458.84 303.91 L459.46 302.98 L460.09 302.50 L460.71 301.98 L461.34 300.17 L461.97 296.74 L462.59 291.76 L463.22 286.52 L463.84 276.50 L464.47 264.27 L465.09 260.46 L465.72 243.41 L466.34 248.28 L466.97 242.77 L467.59 251.08 L468.22 261.95 L468.85 265.51 L469.47 275.95 L470.10 284.75 L470.72 292.32 L471.35 297.32 L471.97 299.84 L472.60 301.75 L473.22 302.31 L473.85 303.37 L474.48 303.26 L475.10 304.09 L475.73 304.29 L476.35 304.81 L476.98 305.11 L477.60 305.00 L478.23 305.29 L478.85 305.51 L479.48 305.60 L480.10 305.35 L480.73 306.07 L481.36 305.62 L481.98 306.03 L482.61 306.18 L483.23 305.99 L483.86 306.40 L484.48 306.48 L485.11 306.68 L485.73 306.36 L486.36 306.82 L486.98 306.50 L487.61 306.55 L488.24 306.53 L488.86 306.97 L489.49 306.62 L490.11 306.77 L490.74 306.58 L491.36 307.09 L491.99 306.98 L492.61 307.01 L493.24 306.79 L493.86 306.69 L494.49 306.80 L495.12 307.02 L495.74 306.72 L496.37 307.18 L496.99 307.16 L497.62 307.01 L498.24 306.94 L498.87 306.98 L499.49 307.05 L500.12 307.19 L500.75 306.76 L501.37 307.04 L502.00 307.15 L502.62 307.00 L503.25 306.62 L503.87 307.12 L504.50 306.71 L505.12 307.02 L505.75 307.00 L506.37 307.01 L507.00 307.16" fill="none" stroke="#b0b0b0" stroke-width="0.85"/>
<path d="M408.80 307.07 L409.43 306.66 L410.05 306.77 L410.68 306.89 L411.30 306.89 L411.93 306.67 L412.55 307.20 L413.18 307.12 L413.80 306.76 L414.43 306.70 L415.05 307.08 L415.68 307.13 L416.31 307.13 L416.93 307.19 L417.56 307.18 L418.18 307.10 L418.81 306.64 L419.43 306.71 L420.06 306.86 L420.68 306.74 L421.31 307.06 L421.94 307.05 L422.56 306.61 L423.19 307.16 L423.81 306.71 L424.44 306.78 L425.06 307.16 L425.69 307.17 L426.31 306.96 L426.94 307.17 L427.56 306.62 L428.19 306.62 L428.82 306.62 L429.44 306.81 L430.07 306.88 L430.69 306.95 L431.32 307.05 L431.94 306.86 L432.57 306.67 L433.19 307.07 L433.82 307.14 L434.44 306.56 L435.07 306.53 L435.70 306.91 L436.32 306.52 L436.95 307.01 L437.57 306.94 L438.20 306.96 L438.82 306.38 L439.45 306.48 L440.07 306.60 L440.70 306.60 L441.32 306.75 L441.95 306.59 L442.58 306.19 L443.20 306.18 L443.83 306.27 L444.45 306.30 L445.08 305.69 L445.70 306.03 L446.33 305.61 L446.95 305.64 L447.58 305.64 L448.21 305.83 L448.83 305.24 L449.46 304.85 L450.08 305.23 L450.71 304.59 L451.33 305.02 L451.96 304.44 L452.58 304.38 L453.21 304.24 L453.83 304.29 L454.46 303.58 L455.09 304.02 L455.71 303.10 L456.34 303.04 L456.96 300.76 L457.59 299.11 L458.21 294.76 L458.84 290.49 L459.46 282.55 L460.09 273.57 L460.71 261.85 L461.34 250.79 L461.97 237.90 L462.59 242.23 L463.22 239.96 L463.84 250.21 L464.47 253.51 L465.09 268.49 L465.72 278.42 L466.34 286.19 L466.97 293.60 L467.59 297.36 L468.22 300.77 L468.85 301.86 L469.47 303.26 L470.10 303.37 L470.72 303.83 L471.35 304.35 L471.97 304.04 L472.60 304.22 L473.22 304.26 L473.85 304.63 L474.48 305.10 L475.10 304.80 L475.73 305.01 L476.35 305.17 L476.98 305.71 L477.60 305.69 L478.23 305.72 L478.85 305.87 L479.48 305.81 L480.10 305.77 L480.73 306.34 L481.36 306.27 L481.98 306.18 L482.61 306.31 L483.23 306.63 L483.86 306.33 L484.48 306.38 L485.11 306.81 L485.73 306.53 L486.36 306.90 L486.98 306.67 L487.61 306.90 L488.24 306.78 L488.86 306.51 L489.49 306.60 L490.11 306.95 L490.74 306.68 L491.36 306.93 L491.99 306.82 L492.61 306.94 L493.24 307.10 L493.86 307.04 L494.49 307.10 L495.12 306.90 L495.74 307.04 L496.37 307.05 L496.99 307.14 L497.62 306.77 L498.24 307.08 L498.87 307.03 L499.49 307.14 L500.12 306.89 L500.75 306.80 L501.37 306.78 L502.00 306.70 L502.62 306.63 L503.25 306.74 L503.87 306.74 L504.50 307.12 L505.12 306.78 L505.75 306.98 L506.37 307.18 L507.00 306.69" fill="none" stroke="#000" stroke-width="1.0"/>
<path d="M408.80 306.85 L409.43 306.66 L410.05 306.98 L410.68 306.95 L411.30 307.14 L411.93 307.11 L412.55 306.83 L413.18 306.75 L413.80 307.16 L414.43 306.87 L415.05 306.72 L415.68 306.85 L416.31 307.02 L416.93 307.08 L417.56 306.84 L418.18 306.96 L418.81 307.05 L419.43 306.85 L420.06 306.71 L420.68 307.13 L421.31 306.66 L421.94 306.96 L422.56 306.99 L423.19 307.14 L423.81 306.61 L424.44 306.92 L425.06 307.03 L425.69 307.02 L426.31 307.02 L426.94 306.88 L427.56 307.06 L428.19 307.01 L428.82 306.65 L429.44 306.61 L430.07 306.66 L430.69 306.74 L431.32 306.99 L431.94 306.73 L432.57 306.95 L433.19 306.60 L433.82 307.00 L434.44 307.11 L435.07 306.83 L435.70 306.60 L436.32 306.64 L436.95 306.67 L437.57 306.96 L438.20 306.43 L438.82 306.53 L439.45 306.87 L440.07 306.59 L440.70 306.73 L441.32 306.42 L441.95 306.34 L442.58 306.36 L443.20 306.41 L443.83 306.35 L444.45 306.31 L445.08 306.27 L445.70 306.12 L446.33 305.70 L446.95 306.05 L447.58 305.41 L448.21 305.59 L448.83 305.38 L449.46 305.65 L450.08 305.11 L450.71 305.19 L451.33 304.67 L451.96 304.61 L452.58 304.72 L453.21 304.22 L453.83 304.25 L454.46 304.17 L455.09 303.56 L455.71 303.92 L456.34 303.67 L456.96 302.91 L457.59 302.02 L458.21 298.46 L458.84 294.19 L459.46 289.00 L460.09 281.64 L460.71 273.63 L461.34 264.04 L461.97 245.59 L462.59 240.57 L463.22 234.11 L463.84 239.86 L464.47 245.47 L465.09 261.29 L465.72 270.94 L466.34 280.31 L466.97 287.03 L467.59 293.73 L468.22 297.65 L468.85 300.91 L469.47 302.11 L470.10 303.20 L470.72 303.75 L471.35 303.58 L471.97 303.84 L472.60 304.54 L473.22 304.42 L473.85 304.81 L474.48 304.89 L475.10 304.74 L475.73 305.00 L476.35 305.43 L476.98 305.23 L477.60 305.64 L478.23 305.74 L478.85 306.01 L479.48 305.88 L480.10 306.23 L480.73 305.95 L481.36 305.95 L481.98 306.00 L482.61 306.23 L483.23 306.60 L483.86 306.54 L484.48 306.37 L485.11 306.44 L485.73 306.40 L486.36 306.67 L486.98 306.63 L487.61 306.69 L488.24 306.79 L488.86 306.88 L489.49 306.88 L490.11 306.53 L490.74 306.60 L491.36 306.73 L491.99 307.08 L492.61 306.97 L493.24 306.86 L493.86 306.82 L494.49 306.94 L495.12 306.71 L495.74 306.73 L496.37 307.17 L496.99 306.82 L497.62 306.94 L498.24 307.12 L498.87 306.78 L499.49 306.98 L500.12 306.82 L500.75 307.19 L501.37 307.04 L502.00 307.09 L502.62 307.07 L503.25 307.08 L503.87 306.75 L504.50 306.80 L505.12 306.62 L505.75 306.67 L506.37 306.73 L507.00 306.64" fill="none" stroke="#000" stroke-width="1.0"/>
<text x="413.2" y="250.8" font-size="8.9" font-weight="bold" text-anchor="start" fill="#000" textLength="33.0" lengthAdjust="spacingAndGlyphs">t = 16h</text>
<text x="422.3" y="269.6" font-size="9.3" font-weight="bold" text-anchor="start" fill="#000" textLength="28.900000000000013" lengthAdjust="spacingAndGlyphs">HIV-R</text>
<path d="M453.2 266.6H460.4" stroke="#000" stroke-width="1.4"/>
<text x="477.6" y="261.6" font-size="9.3" font-weight="bold" text-anchor="start" fill="#74248f" textLength="28.1" lengthAdjust="spacingAndGlyphs">HIV-S</text>
<path d="M467.4 258.6H475.0" stroke="#74248f" stroke-width="1.4"/>
<text transform="translate(405.1,243.7) rotate(-90)" font-size="8.6" font-weight="normal" text-anchor="start" fill="#000" textLength="14.3" lengthAdjust="spacingAndGlyphs">200</text>
<text transform="translate(405.1,310.0) rotate(-90)" font-size="8.6" font-weight="normal" text-anchor="start" fill="#000">0</text>
<text x="401.40" y="319.4" font-size="8.8" fill="#000">10<tspan dy="-3.6" font-size="8.2">0</tspan></text>
<text x="426.20" y="319.4" font-size="8.8" fill="#000">10<tspan dy="-3.6" font-size="8.2">1</tspan></text>
<text x="451.00" y="319.4" font-size="8.8" fill="#000">10<tspan dy="-3.6" font-size="8.2">2</tspan></text>
<text x="475.80" y="319.4" font-size="8.8" fill="#000">10<tspan dy="-3.6" font-size="8.2">3</tspan></text>
<text x="500.60" y="319.4" font-size="8.8" fill="#000">10<tspan dy="-3.6" font-size="8.2">4</tspan></text>
<text transform="translate(29.7,299.4) rotate(-90)" font-size="10.4" font-weight="bold" text-anchor="start" fill="#000" textLength="51.2" lengthAdjust="spacingAndGlyphs">Cell Count</text>
<text x="197.2" y="338.0" font-size="10.0" font-weight="bold" text-anchor="start" fill="#000" textLength="216.2" lengthAdjust="spacingAndGlyphs">Intracellular IRF -1 (Fluorescence Intensity)</text>
</svg></body></html>
